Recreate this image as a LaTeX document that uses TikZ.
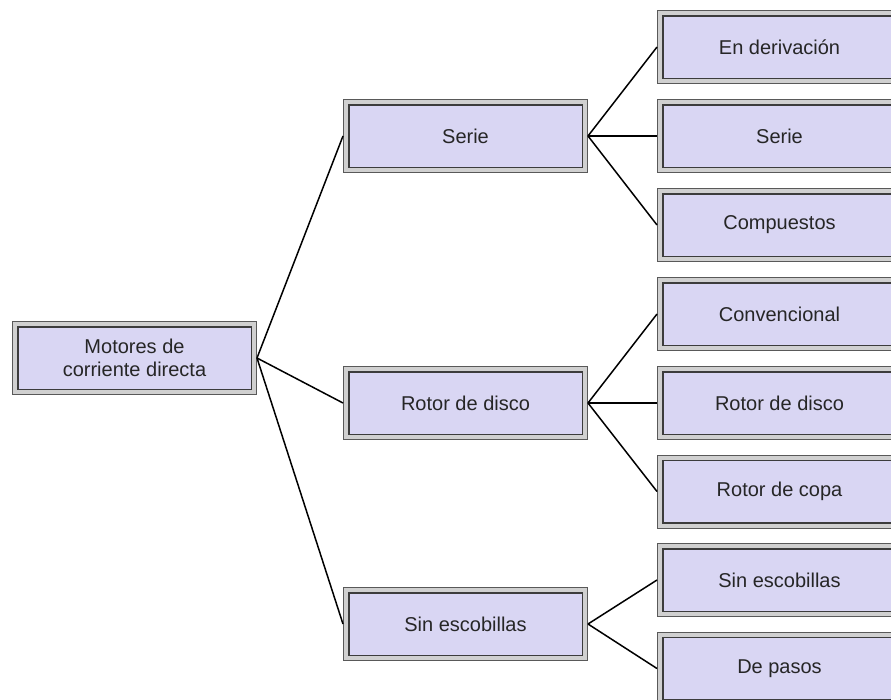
\documentclass[tikz,border=0pt]{standalone}
\usepackage{fontspec}
\setmainfont{Liberation Sans}
\definecolor{boxfill}{HTML}{D9D6F3}
\definecolor{boxband}{HTML}{D0D0D0}
\definecolor{boxline}{HTML}{3C3C3C}
\tikzset{
	motorbox/.style={rectangle, fill=boxfill, draw=boxline, line width=1.5pt,
		minimum width=233.5pt, minimum height=62.5pt, inner sep=0pt, outer sep=5.75pt,
		align=center, text=black!85, font=\fontsize{20}{23}\selectfont,
		preaction={draw=boxline!85, line width=11.5pt},
		preaction={draw=boxband, line width=9.5pt}},
	link/.style={black, line width=1.5pt}
}
\begin{document}
\begin{tikzpicture}[x=1pt,y=-1pt]
		\path[use as bounding box] (0,0) rectangle (891,699);
		\clip (0,0) rectangle (891,699);
		% root
		\node[motorbox] (motores) at (134.5,358) {Motores de\\corriente directa};
		% middle column
		\node[motorbox] (serie) at (465.5,136) {Serie};
		\node[motorbox] (rotor) at (465.5,403) {Rotor de disco};
		\node[motorbox] (sinesc) at (465.5,624) {Sin escobillas};
		% right column
		\node[motorbox] (derivacion) at (779.5,47) {En derivación};
		\node[motorbox] (serieb) at (779.5,136) {Serie};
		\node[motorbox] (compuestos) at (779.5,225) {Compuestos};
		\node[motorbox] (convencional) at (779.5,314) {Convencional};
		\node[motorbox] (rotorb) at (779.5,403) {Rotor de disco};
		\node[motorbox] (copa) at (779.5,491.5) {Rotor de copa};
		\node[motorbox] (sinescb) at (779.5,580) {Sin escobillas};
		\node[motorbox] (pasos) at (779.5,668.5) {De pasos};

		% connectors
		\draw[link] (motores.east) -- (serie.west);
		\draw[link] (motores.east) -- (rotor.west);
		\draw[link] (motores.east) -- (sinesc.west);
		\draw[link] (serie.east) -- (derivacion.west);
		\draw[link] (serie.east) -- (serieb.west);
		\draw[link] (serie.east) -- (compuestos.west);
		\draw[link] (rotor.east) -- (convencional.west);
		\draw[link] (rotor.east) -- (rotorb.west);
		\draw[link] (rotor.east) -- (copa.west);
		\draw[link] (sinesc.east) -- (sinescb.west);
		\draw[link] (sinesc.east) -- (pasos.west);
	\end{tikzpicture}
\end{document}
